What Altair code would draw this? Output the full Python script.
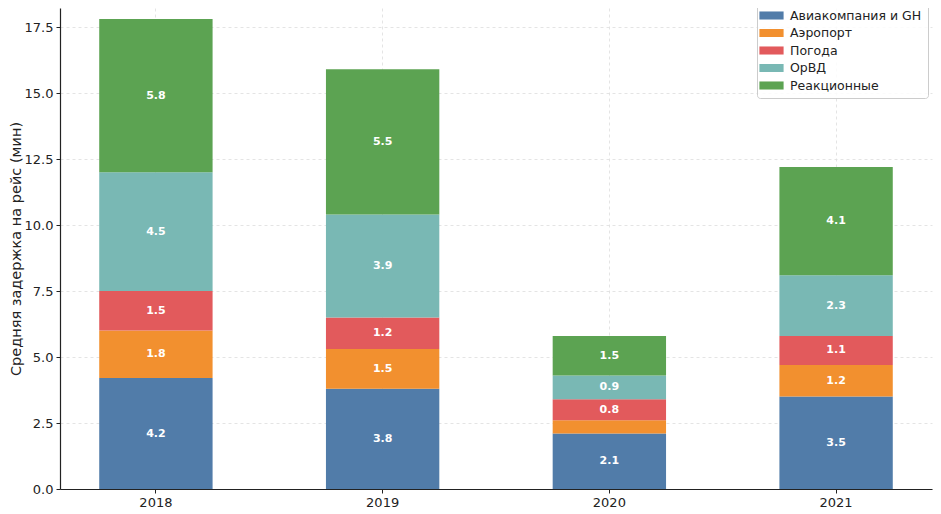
import altair as alt
import pandas as pd

years = ["2018", "2019", "2020", "2021"]
categories = ["Авиакомпания и GH", "Аэропорт", "Погода", "ОрВД", "Реакционные"]
airline = [4.2, 3.8, 2.1, 3.5]
airport = [1.8, 1.5, 0.5, 1.2]
weather = [1.5, 1.2, 0.8, 1.1]
atc = [4.5, 3.9, 0.9, 2.3]
reactionary = [5.8, 5.5, 1.5, 4.1]
colors = ["#4e79a7", "#f28e2b", "#e15759", "#76b7b2", "#59a14f"]

series = [airline, airport, weather, atc, reactionary]
rows = []
for ci, (cat, vals) in enumerate(zip(categories, series)):
    for y, v in zip(years, vals):
        rows.append({"year": y, "cat": cat, "idx": ci, "value": v})
df = pd.DataFrame(rows)

FONT = "DejaVu Sans"
yscale = alt.Scale(domain=[0, 18.22], nice=False, zero=True)
yaxis = alt.Axis(
    title="Средняя задержка на рейс (мин)",
    values=[0, 2.5, 5, 7.5, 10, 12.5, 15, 17.5],
    format=".1f", grid=True, labelFontSize=13, titleFontSize=14.5,
    titleFontWeight="normal", labelColor="#222222", titleColor="#222222",
    tickColor="#222222", domainColor="#222222", tickSize=4, labelPadding=3,
    titlePadding=1,
)
xenc = alt.X(
    "year:N",
    sort=years,
    scale=alt.Scale(paddingInner=0.5, paddingOuter=0.173),
    axis=alt.Axis(
        title=None, labelAngle=0, grid=True, bandPosition=0.5,
        labelFontSize=13, labelColor="#222222", tickColor="#222222",
        domainColor="#222222", tickSize=4, labelPadding=3,
    ),
)

bars = alt.Chart(df).mark_bar(opacity=0.98).encode(
    x=xenc,
    y=alt.Y("value:Q", stack="zero", scale=yscale, axis=yaxis),
    color=alt.Color(
        "cat:N",
        scale=alt.Scale(domain=categories, range=colors),
        legend=alt.Legend(
            title=None, orient="none", legendX=697, legendY=-7,
            labelFontSize=12.5, labelFont=FONT, labelColor="#222222",
            symbolType="M-1.5,-0.5H1.5V0.5H-1.5Z", symbolSize=260,
            symbolStrokeWidth=0, rowPadding=2.5, padding=6, labelOffset=10,
            strokeColor="#cccccc", fillColor="rgba(255,255,255,0.85)",
            cornerRadius=3,
        ),
    ),
    order=alt.Order("idx:Q"),
)

labels = alt.Chart(df).transform_window(
    cum="sum(value)", groupby=["year"], sort=[alt.SortField("idx")]
).transform_calculate(
    mid="datum.cum - datum.value / 2"
).transform_filter(
    "datum.value > 0.55"
).mark_text(
    color="white", fontWeight="bold", fontSize=11, font=FONT
).encode(
    x=xenc,
    y=alt.Y("mid:Q", scale=yscale, axis=yaxis),
    text=alt.Text("value:Q", format=".1f"),
)

chart = alt.layer(bars, labels).properties(
    width=872, height=481,
    autosize=alt.AutoSizeParams(type="none"),
    padding={"left": 52, "top": 0, "right": 1, "bottom": 25},
).configure_view(stroke=None).configure_axis(
    gridDash=[3, 3], gridColor="#dddddd", gridWidth=0.8,
    labelFont=FONT, titleFont=FONT,
).configure_axisY(domainWidth=1.2).configure_axisX(domainWidth=1.2)

chart.save("out.html", embed_options={"renderer": "svg", "actions": False})
